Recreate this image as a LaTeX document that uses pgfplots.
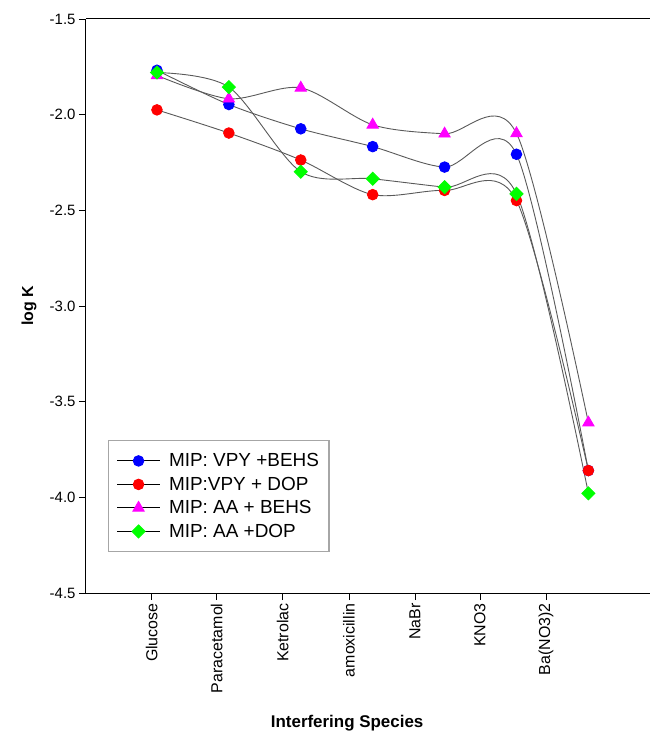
\documentclass[border=0pt]{standalone}
\usepackage{fontspec}
\setmainfont{Liberation Sans}
\usepackage{pgfplots}
\pgfplotsset{compat=1.18}
\definecolor{mblue}{RGB}{0,0,255}
\definecolor{mred}{RGB}{255,0,0}
\definecolor{mpink}{RGB}{255,0,255}
\definecolor{mgreen}{RGB}{0,255,0}
\begin{document}
\begin{tikzpicture}
\useasboundingbox (-86bp,-140bp) rectangle (564bp,593bp);
\begin{axis}[
  at={(0,0)}, anchor=south west,
  scale only axis, width=564bp, height=574bp,
  xmin=-0.987, xmax=6.857, ymin=-4.5, ymax=-1.5,
  axis x line*=box, axis y line*=left,
  axis line style={black, line width=1bp},
  xtick={-0.0737,0.830,1.748,2.670,3.588,4.492,5.410},
  xticklabels={Glucose,Paracetamol,Ketrolac,amoxicillin,NaBr,KNO3,Ba(NO3)2},
  xtick pos=left, ytick pos=left,
  xticklabel style={rotate=90, anchor=east, font=\fontsize{16}{19}\selectfont},
  ytick={-4.5,-4,-3.5,-3,-2.5,-2,-1.5},
  yticklabel style={/pgf/number format/fixed, /pgf/number format/precision=1,
    /pgf/number format/fixed zerofill, /pgf/number format/assume math mode=true,
    font=\fontsize{15}{18}\selectfont},
  tick align=outside, major tick length=7bp, tick style={black, line width=0.9bp},
  xlabel={\textbf{Interfering Species}},
  xlabel style={at={(axis description cs:0.463,-0.2265)}, anchor=center, font=\fontsize{17}{20}\selectfont},
  ylabel={\textbf{log K}},
  ylabel style={at={(axis description cs:-0.101,0.5)}, anchor=center, font=\fontsize{16}{19}\selectfont},
  legend style={at={(axis description cs:0.039,0.2666)}, anchor=north west,
    draw=gray!70, line width=1.2bp, font=\fontsize{19}{21}\selectfont,
    inner xsep=8bp, inner ysep=11bp, row sep=4.8bp, cells={anchor=west}},
  legend image code/.code={\draw[mark repeat=2,mark phase=2,#1,black] plot coordinates {(0bp,0bp)(21.5bp,0bp)(43bp,0bp)};
    \path[draw=none,fill=none] (0bp,0bp) -- (50bp,0bp);},
]
\addplot[smooth, color=black!65, line width=0.9bp, mark=*, mark size=5.3bp,
  mark options={fill=mblue, draw=mblue, solid}]
  coordinates {(0,-1.768) (1,-1.947) (2,-2.074) (3,-2.167) (4,-2.274) (5,-2.207) (6,-3.86)};
\addlegendentry{MIP: VPY +BEHS}
\addplot[smooth, color=black!65, line width=0.9bp, mark=*, mark size=5.3bp,
  mark options={fill=mred, draw=mred, solid}]
  coordinates {(0,-1.975) (1,-2.096) (2,-2.237) (3,-2.418) (4,-2.396) (5,-2.449) (6,-3.86)};
\addlegendentry{MIP:VPY + DOP}
\addplot[smooth, color=black!65, line width=0.9bp, mark=triangle*, mark size=6.5bp,
  mark options={fill=mpink, draw=mpink, solid}]
  coordinates {(0,-1.795) (1,-1.917) (2,-1.86) (3,-2.053) (4,-2.10) (5,-2.098) (6,-3.61)};
\addlegendentry{MIP: AA + BEHS}
\addplot[smooth, color=black!65, line width=0.9bp, mark=square*, mark size=4.6bp,
  mark options={fill=mgreen, draw=mgreen, solid, rotate=45}]
  coordinates {(0,-1.78) (1,-1.856) (2,-2.298) (3,-2.335) (4,-2.379) (5,-2.414) (6,-3.979)};
\addlegendentry{MIP: AA +DOP}
\end{axis}
\end{tikzpicture}
\end{document}
